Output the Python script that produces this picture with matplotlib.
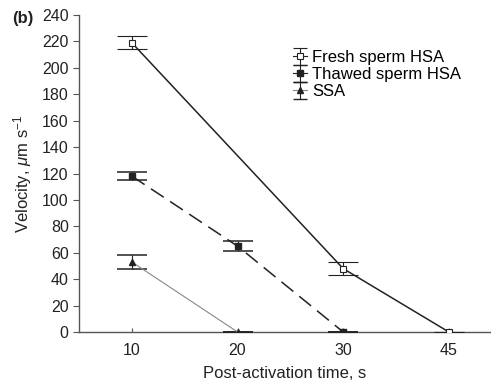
import matplotlib
matplotlib.use('Agg')
import matplotlib.pyplot as plt

plt.rcParams['font.family'] = ['Liberation Sans', 'DejaVu Sans']
plt.rcParams['mathtext.fontset'] = 'custom'
plt.rcParams['mathtext.rm'] = 'Liberation Sans'
plt.rcParams['mathtext.it'] = 'Liberation Sans:italic'

times = ['10', '20', '30', '45']

fresh_x = [0, 2, 3]
fresh_y = [219, 48, 0]
fresh_err = [5, 5, 0]

thawed_x = [0, 1, 2]
thawed_y = [118, 65, 0]
thawed_err = [3, 4, 0]

ssa_x = [0, 1]
ssa_y = [53, 0]
ssa_err = [5, 0]

fig = plt.figure(figsize=(4.91, 3.86), dpi=100)
ax = fig.add_axes([0.161, 0.14, 0.837, 0.821])

ink = '#222222'
common = dict(elinewidth=0.8, capthick=1.1, zorder=3)
ax.errorbar(fresh_x, fresh_y, yerr=fresh_err, color=ink, lw=1.1, marker='s', ms=4.5,
            mfc='white', mec=ink, mew=0.8, capsize=11, **common)
ax.errorbar(thawed_x, thawed_y, yerr=thawed_err, color=ink, lw=1.1, ls=(0, (10, 5)),
            marker='s', ms=4.5, mfc=ink, mec=ink, capsize=11, **common)
ax.errorbar(ssa_x, ssa_y, yerr=ssa_err, color='#888888', lw=0.8, marker='^', ms=4.5,
            mfc=ink, mec=ink, ecolor=ink, capsize=11, **common)

# legend proxies with small caps
nan = [float('nan')]
h1 = ax.errorbar(nan, nan, yerr=[1], color=ink, lw=0.8, marker='s', ms=4, mfc='white',
                 mec=ink, mew=0.8, capsize=5, elinewidth=0.8, capthick=1.0)
h2 = ax.errorbar(nan, nan, yerr=[1], color=ink, lw=0.8, marker='s', ms=4, mfc=ink,
                 mec=ink, capsize=5, elinewidth=0.8, capthick=1.0)
h3 = ax.errorbar(nan, nan, yerr=[1], color='#888888', lw=0.8, marker='^', ms=4, mfc=ink,
                 mec=ink, ecolor=ink, capsize=5, elinewidth=0.8, capthick=1.0)

ax.set_xlim(-0.5, 3.39)
ax.set_ylim(0, 240)
ax.set_xticks(range(len(times)))
ax.set_xticklabels(times)
ax.set_yticks(range(0, 241, 20))

for s in ['top', 'right']:
    ax.spines[s].set_visible(False)
for s in ['left', 'bottom']:
    ax.spines[s].set_color('#555555')
    ax.spines[s].set_linewidth(1.0)
ax.tick_params(axis='y', direction='out', length=4, color='#555555', labelsize=11.5, labelcolor=ink)
ax.tick_params(axis='x', direction='in', length=3, color='#555555', labelsize=11.5, labelcolor=ink, pad=8)

ax.set_xlabel('Post-activation time, s', fontsize=12, color=ink, labelpad=6)
ax.set_ylabel(r'Velocity, $\mathit{\mu}$m s$^{-1}$', fontsize=12, color=ink, labelpad=6)

ax.legend([h1, h2, h3], ['Fresh sperm HSA', 'Thawed sperm HSA', 'SSA'],
          loc='upper left', bbox_to_anchor=(0.505, 0.91), frameon=False, fontsize=12,
          handlelength=0.8, handletextpad=0.35, labelspacing=0.12, borderaxespad=0)

fig.text(0.024, 0.94, '(b)', fontsize=12, fontweight='bold', color=ink)

fig.savefig('out.png', dpi=100)
